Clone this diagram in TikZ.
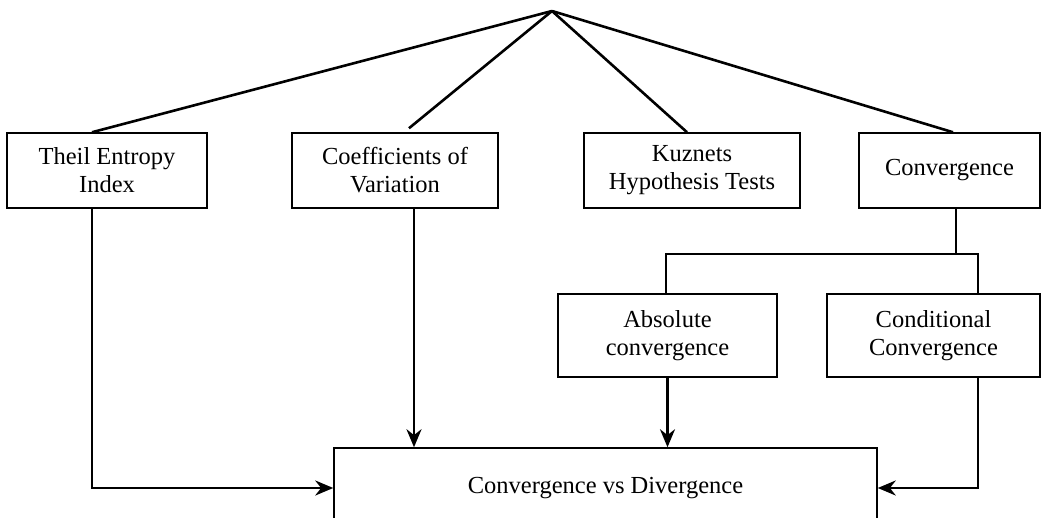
\documentclass[tikz,border=0pt]{standalone}
\usepackage{fontspec}
\setmainfont{Liberation Serif}
\usetikzlibrary{arrows.meta}

\begin{document}
\begin{tikzpicture}
      [x=1pt,y=-1pt,
       measure/.style={rectangle,draw,line width=1.5pt,align=center,inner sep=0pt,
         font=\fontsize{24.5}{28}\selectfont},
       link/.style={line width=2.6pt},
       >={Stealth[length=18pt,width=15pt]}]
      \useasboundingbox (0,0) rectangle (1041,518) ;
      \coordinate (apex) at (552,11) ;
      \node[measure,minimum width=200pt,minimum height=75pt] (theil) at (107,170.5) {Theil Entropy\\Index} ;
      \node[measure,minimum width=206pt,minimum height=75pt] (coeff) at (395,170.5) {Coefficients of\\Variation} ;
      \node[measure,minimum width=216pt,minimum height=75pt] (kuznets) at (692,170.5) {Kuznets\\Hypothesis Tests} ;
      \node[measure,minimum width=181pt,minimum height=75pt] (conv) at (949.5,170.5) {Convergence} ;
      \node[measure,minimum width=219pt,minimum height=83pt] (absconv) at (667.5,335.5) {Absolute\\convergence} ;
      \node[measure,minimum width=213pt,minimum height=83pt] (condconv) at (933.5,335.5) {Conditional\\Convergence} ;
      \node[measure,minimum width=543pt,minimum height=80pt] (result) at (605.5,488) {Convergence vs Divergence} ;
      \coordinate (fork) at (956,254) ;
      \draw[link] (apex) to ([xshift=-15pt]theil.north) ;
      \draw[link] (apex) to ([xshift=14pt,yshift=4pt]coeff.north) ;
      \draw[link] (apex) to ([xshift=-5pt]kuznets.north) ;
      \draw[link] (apex) to ([xshift=3.5pt]conv.north) ;
      \draw[link,->] ([xshift=-15pt]theil.south) |- (result.west) ;
      \draw[link,->] ([xshift=19pt]coeff.south) to ([xshift=19pt]coeff.south |- result.north) ;
      \draw[link] ([xshift=6.5pt]conv.south) to (fork) ;
      \draw[link] ([xshift=-1.5pt]absconv.north) |- (fork) -| ([xshift=44.5pt]condconv.north) ;
      \draw[link,->] (absconv.south) to (absconv.south |- result.north) ;
      \draw[link,->] ([xshift=44.5pt]condconv.south) |- (result.east) ;
    \end{tikzpicture}
\end{document}
